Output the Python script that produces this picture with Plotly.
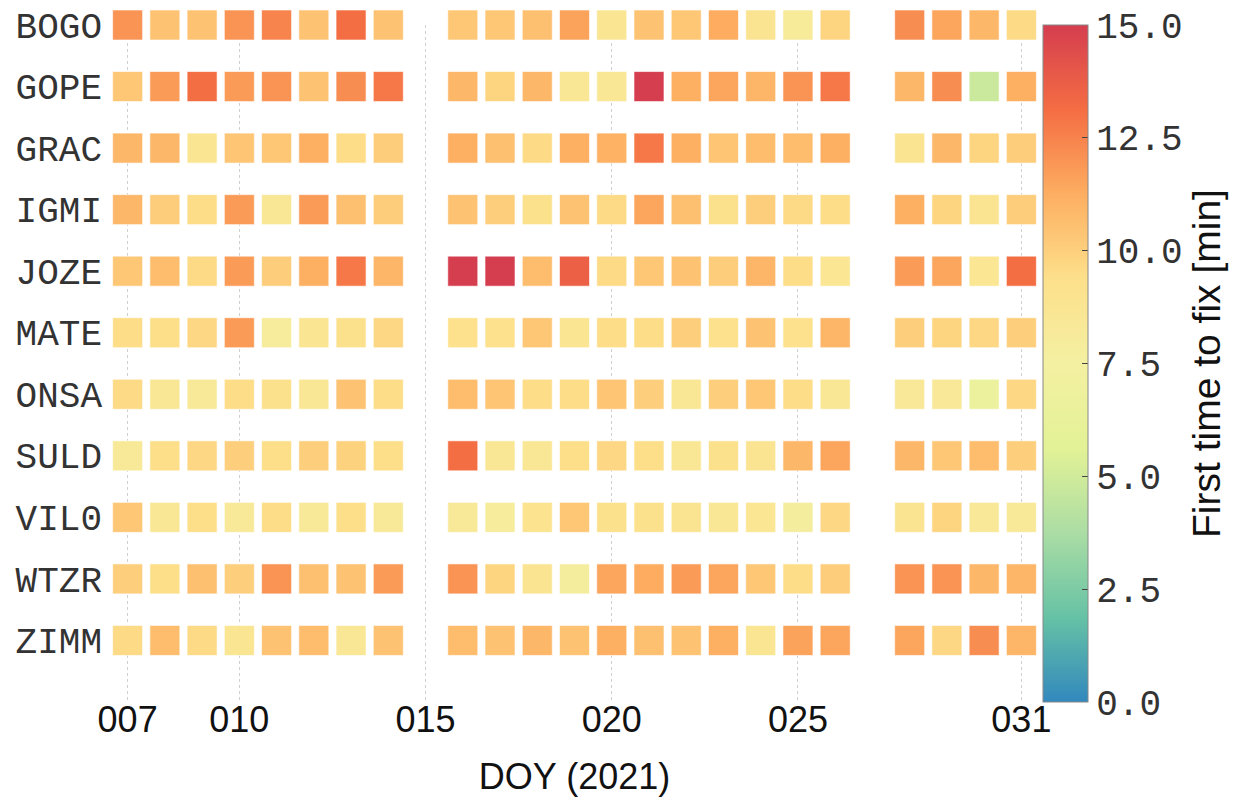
import plotly.graph_objects as go

stations = ["BOGO", "GOPE", "GRAC", "IGMI", "JOZE", "MATE", "ONSA", "SULD", "VIL0", "WTZR", "ZIMM"]
days = [7, 8, 9, 10, 11, 12, 13, 14, 16, 17, 18, 19, 20, 21, 22, 23, 24, 25, 26, 28, 29, 30, 31]

bogo = [12.0, 10.5, 10.5, 12.0, 12.5, 10.5, 13.1, 10.5, 10.3, 10.3, 10.6, 11.6, 8.8, 10.5, 10.3, 11.3, 8.9, 8.2, 9.8, 12.2, 11.5, 10.9, 9.6]
gope = [10.3, 11.8, 13.1, 11.8, 12.0, 10.5, 12.2, 12.8, 10.9, 9.8, 10.9, 8.6, 8.6, 15.0, 11.2, 11.5, 11.0, 12.0, 12.8, 10.9, 12.2, 4.8, 11.2]
grac = [10.9, 10.9, 8.8, 10.4, 10.3, 11.2, 9.5, 10.1, 11.2, 10.6, 9.6, 11.2, 11.1, 12.8, 11.2, 10.4, 10.7, 10.7, 11.2, 8.9, 10.9, 9.8, 10.1]
igmi = [10.9, 10.1, 9.5, 11.8, 8.6, 11.8, 10.6, 10.1, 10.5, 10.0, 9.2, 10.5, 9.6, 11.5, 10.6, 9.2, 10.0, 9.6, 9.5, 11.2, 9.8, 8.9, 10.1]
joze = [10.3, 10.7, 9.6, 11.8, 10.1, 11.2, 12.8, 11.0, 15.0, 15.0, 10.7, 13.6, 9.6, 10.3, 10.5, 10.1, 11.0, 9.5, 8.7, 11.8, 11.5, 8.7, 13.1]
mate = [9.5, 9.4, 9.7, 11.8, 8.0, 8.8, 9.2, 9.7, 9.3, 9.3, 10.3, 8.8, 9.5, 9.5, 10.0, 9.3, 10.5, 9.3, 11.0, 10.0, 9.8, 9.7, 10.0]
onsa = [9.6, 8.6, 8.3, 9.5, 9.2, 8.5, 10.5, 9.5, 10.7, 10.4, 9.5, 9.5, 10.4, 10.0, 8.6, 10.0, 10.3, 9.5, 8.6, 8.4, 8.4, 6.5, 9.7]
suld = [8.3, 9.4, 9.7, 10.0, 9.4, 10.0, 9.9, 9.4, 13.1, 8.6, 8.6, 9.4, 9.7, 9.4, 8.6, 9.2, 8.9, 10.9, 11.5, 10.9, 10.3, 10.7, 10.0]
vil0 = [10.3, 8.6, 9.4, 8.3, 9.5, 8.3, 9.4, 8.3, 8.3, 8.0, 9.0, 10.3, 9.2, 9.2, 8.9, 8.6, 8.7, 7.8, 9.7, 8.9, 9.8, 8.4, 8.3]
wtzr = [10.0, 9.4, 10.6, 10.0, 12.0, 10.6, 10.5, 11.8, 12.0, 9.8, 8.9, 7.8, 11.5, 11.3, 11.8, 11.5, 10.3, 9.5, 10.1, 12.0, 12.0, 10.9, 11.0]
zimm = [9.6, 10.7, 9.6, 8.8, 10.5, 10.7, 8.6, 10.5, 10.7, 10.5, 10.9, 10.5, 11.2, 10.6, 10.5, 11.2, 8.8, 11.6, 11.5, 11.5, 9.7, 12.2, 11.0]

tick_days = [7, 10, 15, 20, 25, 31]
tick_labels = ["007", "010", "015", "020", "025", "031"]
cbar_ticks = [0, 2.5, 5, 7.5, 10, 12.5, 15]

rows = [bogo, gope, grac, igmi, joze, mate, onsa, suld, vil0, wtzr, zimm]

spectral_r = ["#3288bd", "#66c2a5", "#abdda4", "#e3f296", "#f4f0a2",
              "#fde08b", "#fdae61", "#f46d43", "#d53e4f"]
colorscale = [[i / (len(spectral_r) - 1), c] for i, c in enumerate(spectral_r)]

xs, ys, zs = [], [], []
for st, vals in zip(stations, rows):
    for d, v in zip(days, vals):
        xs.append(d)
        ys.append(st)
        zs.append(v)

fig = go.Figure()
fig.add_trace(go.Scatter(
    x=xs, y=ys, mode="markers", cliponaxis=False,
    marker=dict(
        symbol="square", size=30, color=zs, colorscale=colorscale,
        cmin=0, cmax=15,
        line=dict(width=1, color="rgba(255,255,255,0.6)"),
        colorbar=dict(
            thickness=45, len=1, lenmode="fraction", y=0.5, yanchor="middle",
            x=1.003, xanchor="left", xpad=0, ypad=0,
            outlinewidth=1, outlinecolor="#888888",
            tickvals=cbar_ticks, tickformat=".1f",
            ticks="inside", ticklen=6, tickcolor="#444444",
            ticklabeloverflow="allow",
            tickfont=dict(family="Liberation Mono", size=36, color="#333333"),
            title=dict(text="First time to fix [min]", side="right",
                       font=dict(family="Liberation Sans", size=39, color="#111111")),
        ),
    ),
    hovertemplate="%{y} DOY %{x}: %{marker.color:.1f} min<extra></extra>",
    showlegend=False,
))

fig.update_layout(
    width=1234, height=792,
    margin=dict(l=101, r=202, t=17, b=98, autoexpand=False),
    paper_bgcolor="white", plot_bgcolor="white",
    xaxis=dict(
        range=[6.5, 31.5], tickvals=tick_days, ticktext=tick_labels,
        showgrid=True, gridcolor="#d0d0d0", griddash="dot", gridwidth=1,
        zeroline=False, showline=False, ticks="", automargin=False,
        ticklabelstandoff=-7,
        tickfont=dict(family="Liberation Sans", size=36, color="#111111"),
        title=dict(text="DOY (2021)", font=dict(family="Liberation Sans", size=36, color="#111111"),
                   standoff=24),
    ),
    yaxis=dict(
        type="category", categoryorder="array", categoryarray=stations[::-1],
        range=[-1, 10], showgrid=False, zeroline=False, showline=False, ticks="",
        automargin=False, ticklabelstandoff=6,
        tickfont=dict(family="Liberation Mono", size=36, color="#333333"),
    ),
)

fig.write_html("out.html")
